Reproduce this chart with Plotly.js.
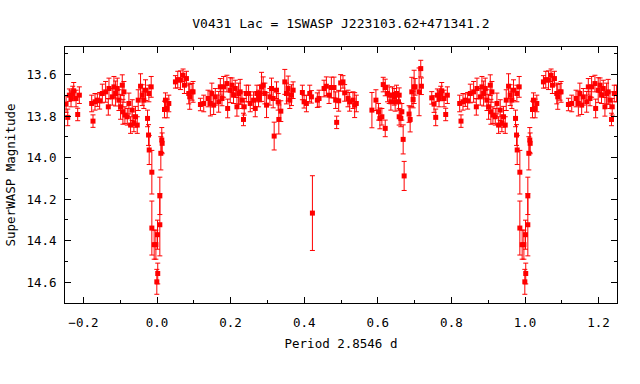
<!DOCTYPE html>
<html>
<head>
<meta charset="utf-8">
<script src="https://cdn.plot.ly/plotly-3.0.1.min.js"></script>
<style>html,body{margin:0;padding:0;background:#fff;}#chart{width:640px;height:384px;}</style>
</head>
<body>
<div id="chart"></div>
<script>
const phase = [
  0.0014, 0.0020, 0.0077, 0.0077, 0.0104, 0.0130, 0.0140,
  0.0203, 0.0230, 0.0276, 0.0321, 0.0501, 0.0565, 0.0637, 0.0709, 0.0745, 0.0800,
  0.0863, 0.0890, 0.0953, 0.0980, 0.1180, 0.1270, 0.1387, 0.1450, 0.1490, 0.1540,
  0.1585, 0.1676, 0.1720, 0.1766, 0.1810, 0.1900, 0.1920, 0.1990, 0.2040, 0.2080,
  0.2127, 0.2172, 0.2217, 0.2260, 0.2308, 0.2350, 0.2370, 0.2425, 0.2489, 0.2534,
  0.2624, 0.2670, 0.2715, 0.2760,
  0.2796, 0.2841, 0.2886, 0.2932, 0.2977, 0.3067, 0.3112, 0.3157, 0.3184, 0.3248,
  0.3293, 0.3311, 0.3365, 0.3473, 0.3518, 0.3564, 0.3609, 0.3654, 0.3699, 0.3950,
  0.3997, 0.4060, 0.4150, 0.4196, 0.4223, 0.4358, 0.4404, 0.4539, 0.4602, 0.4675,
  0.4738, 0.4810, 0.4855, 0.4882, 0.4937, 0.4991, 0.5054, 0.5100, 0.5190, 0.5235,
  0.5326, 0.5371, 0.5416,
  0.5840, 0.5949, 0.6021, 0.6057, 0.6111, 0.6147, 0.6202, 0.6202, 0.6265, 0.6310,
  0.6355, 0.6400, 0.6445, 0.6472, 0.6509, 0.6563, 0.6581, 0.6581, 0.6626, 0.6653,
  0.6689, 0.6716, 0.6850, 0.6879, 0.6924, 0.6960, 0.6987, 0.7014, 0.7122, 0.7167,
  0.7185, 0.7466, 0.7529, 0.7574, 0.7619, 0.7664, 0.7710, 0.7737, 0.7800, 0.7845,
  0.7890,
  0.8225, 0.8261, 0.8315, 0.8379, 0.8442, 0.8514, 0.8604, 0.8677, 0.8695, 0.8785,
  0.8830, 0.8875, 0.8920, 0.8966, 0.9011, 0.9056, 0.9074, 0.9101, 0.9128, 0.9192,
  0.9237, 0.9282, 0.9327, 0.9372, 0.9417, 0.9463, 0.9490, 0.9553, 0.9598, 0.9643,
  0.9688, 0.9743, 0.9770, 0.9779, 0.9788, 0.9842, 0.9860, 0.9860, 0.9923, 0.9970,
  0.9995
];
const magnitude = [
  14.371, 14.558, 14.323, 14.184, 13.979, 13.915, 13.931,
  13.768, 13.723, 13.763, 13.739, 13.635, 13.624, 13.627, 13.603, 13.651, 13.619,
  13.691, 13.707, 13.683, 13.683, 13.744, 13.739, 13.715, 13.739, 13.691, 13.747,
  13.707, 13.731, 13.659, 13.715, 13.659, 13.643, 13.763, 13.675, 13.651, 13.699,
  13.667, 13.755, 13.691, 13.683, 13.723, 13.816, 13.755, 13.691, 13.691, 13.739,
  13.723, 13.763, 13.691, 13.715,
  13.691, 13.659, 13.651, 13.691, 13.747, 13.707, 13.667, 13.715, 13.896, 13.675,
  13.731, 13.816, 13.776, 13.635, 13.691, 13.667, 13.723, 13.699, 13.675, 13.686,
  13.731, 13.739, 13.691, 13.707, 14.267, 13.723, 13.715, 13.667, 13.656, 13.699,
  13.662, 13.662, 13.723, 13.830, 13.726, 13.640, 13.635, 13.688, 13.715, 13.731,
  13.723, 13.747, 13.739,
  13.771, 13.723, 13.779, 13.811, 13.803, 13.648, 13.662, 13.859, 13.691, 13.699,
  13.731, 13.699, 13.707, 13.731, 13.691, 13.731, 13.699, 13.803, 13.811, 13.779,
  13.912, 14.088, 13.790, 13.816, 13.683, 13.720, 13.659, 13.659, 13.683, 13.571,
  13.656, 13.712, 13.742, 13.806, 13.699, 13.715, 13.691, 13.678, 13.715, 13.792,
  13.699,
  13.739, 13.824, 13.731, 13.723, 13.726, 13.691, 13.683, 13.755, 13.667, 13.707,
  13.659, 13.691, 13.667, 13.723, 13.755, 13.651, 13.779, 13.683, 13.795, 13.803,
  13.739, 13.843, 13.771, 13.835, 13.803, 13.843, 13.723, 13.656, 13.699, 13.723,
  13.675, 13.811, 13.891, 13.691, 13.963, 13.659, 14.070, 14.339, 14.419, 14.419,
  14.598
];
const magError = [
  0.070, 0.050, 0.150, 0.090, 0.080, 0.060, 0.050,
  0.040, 0.035, 0.045, 0.040, 0.030, 0.040, 0.045, 0.030, 0.040, 0.035,
  0.050, 0.060, 0.040, 0.050, 0.030, 0.040, 0.040, 0.060, 0.050, 0.045,
  0.040, 0.050, 0.040, 0.035, 0.050, 0.040, 0.045, 0.060, 0.035, 0.040,
  0.040, 0.045, 0.050, 0.060, 0.040, 0.030, 0.040, 0.040, 0.040, 0.040,
  0.040, 0.040, 0.040, 0.040,
  0.040, 0.070, 0.040, 0.050, 0.060, 0.040, 0.050, 0.045, 0.067, 0.040,
  0.040, 0.070, 0.050, 0.060, 0.050, 0.060, 0.040, 0.050, 0.040, 0.035,
  0.030, 0.040, 0.040, 0.030, 0.180, 0.035, 0.040, 0.040, 0.045, 0.040,
  0.050, 0.050, 0.040, 0.030, 0.050, 0.040, 0.030, 0.040, 0.040, 0.045,
  0.040, 0.060, 0.040,
  0.085, 0.050, 0.040, 0.050, 0.040, 0.035, 0.040, 0.040, 0.040, 0.040,
  0.040, 0.040, 0.040, 0.045, 0.040, 0.040, 0.035, 0.040, 0.040, 0.040,
  0.070, 0.070, 0.040, 0.060, 0.070, 0.040, 0.080, 0.040, 0.115, 0.040,
  0.040, 0.030, 0.040, 0.040, 0.030, 0.040, 0.035, 0.040, 0.040, 0.030,
  0.040,
  0.040, 0.030, 0.040, 0.030, 0.040, 0.045, 0.050, 0.040, 0.050, 0.040,
  0.050, 0.060, 0.050, 0.050, 0.060, 0.050, 0.060, 0.050, 0.040, 0.040,
  0.050, 0.040, 0.050, 0.040, 0.050, 0.040, 0.050, 0.060, 0.050, 0.040,
  0.050, 0.040, 0.050, 0.040, 0.070, 0.050, 0.105, 0.130, 0.070, 0.070,
  0.060
];

// Phase-folded display from -0.25 to 1.25: points repeat one cycle left/right
const xs = [], ys = [], es = [];
for (let i = 0; i < phase.length; i++) {
  xs.push(phase[i]); ys.push(magnitude[i]); es.push(magError[i]);
  if (phase[i] <= 0.25) { xs.push(phase[i] + 1); ys.push(magnitude[i]); es.push(magError[i]); }
  if (phase[i] >= 0.75) { xs.push(phase[i] - 1); ys.push(magnitude[i]); es.push(magError[i]); }
}

const FONT = 'DejaVu Sans Mono, Liberation Mono, monospace';

const trace = {
  x: xs, y: ys, type: 'scatter', mode: 'markers',
  marker: {symbol: 'square', size: 5, color: '#ff0000'},
  error_y: {type: 'data', array: es, visible: true, color: '#ff0000', thickness: 1, width: 2.5},
  hoverinfo: 'x+y'
};

const axisCommon = {
  showgrid: false, zeroline: false, showline: true, linecolor: '#000', linewidth: 1,
  mirror: 'allticks', ticks: 'inside', ticklen: 6, tickcolor: '#000', tickwidth: 1,
  tickfont: {family: FONT, size: 12.5, color: '#000'}, tickformat: '.1f'
};

const layout = {
  width: 640, height: 384,
  margin: {l: 65, r: 23, t: 47, b: 81},
  paper_bgcolor: '#fff', plot_bgcolor: '#fff',
  showlegend: false,
  title: {text: 'V0431 Lac = 1SWASP J223103.62+471341.2', font: {family: FONT, size: 13, color: '#000'},
          x: 341/640, xref: 'container', xanchor: 'center', y: 1 - 23/384, yref: 'container', yanchor: 'middle'},
  xaxis: Object.assign({}, axisCommon, {
    range: [-0.25, 1.25], tick0: 0, dtick: 0.2, ticklabelstandoff: 8,
    minor: {ticks: 'inside', dtick: 0.1, ticklen: 3, tickcolor: '#000'},
    title: {text: 'Period 2.8546 d', font: {family: FONT, size: 12.5, color: '#000'}, standoff: 10}
  }),
  yaxis: Object.assign({}, axisCommon, {
    range: [14.7, 13.467], tick0: 13.6, dtick: 0.2, ticklabelstandoff: 5,
    minor: {ticks: 'inside', dtick: 0.1, ticklen: 3, tickcolor: '#000'},
    title: {text: 'SuperWASP Magnitude', font: {family: FONT, size: 12.5, color: '#000'}, standoff: 8}
  })
};

Plotly.newPlot('chart', [trace], layout, {displayModeBar: false, staticPlot: true});
</script>
</body>
</html>
